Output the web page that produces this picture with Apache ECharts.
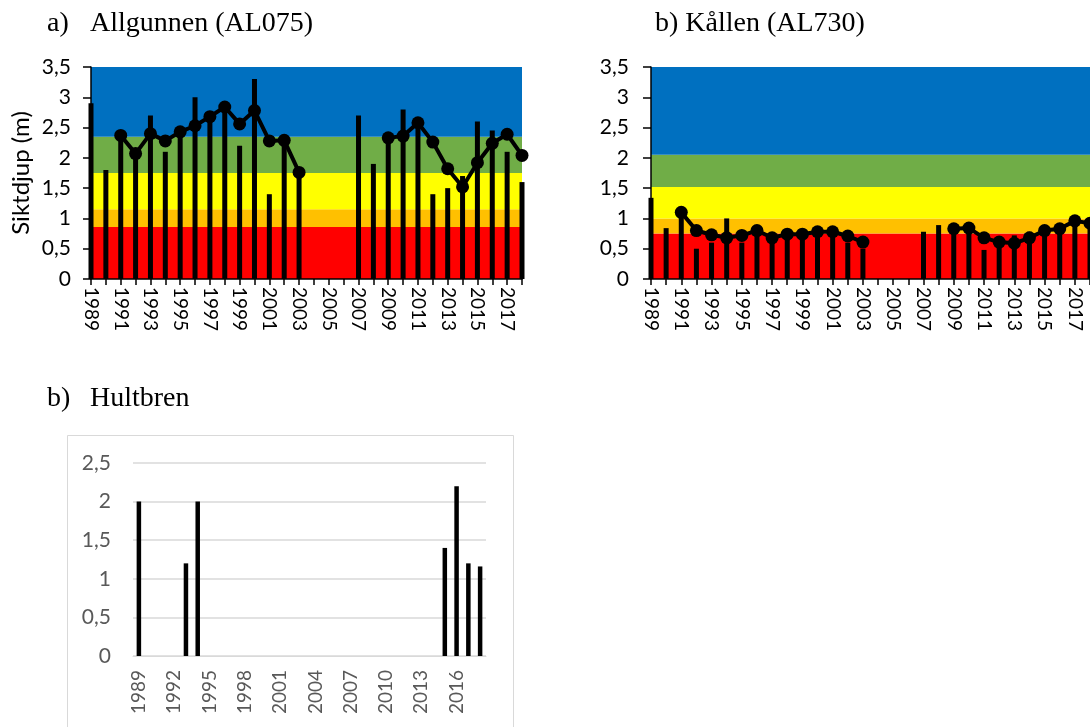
<!DOCTYPE html>
<html>
<head>
<meta charset="utf-8">
<script src="https://cdn.jsdelivr.net/npm/echarts@6/dist/echarts.min.js"></script>
<style>
html,body{margin:0;padding:0;background:#fff;}
#c{width:1090px;height:727px;}
</style>
</head>
<body>
<div id="c"></div>
<script>
const years = ['1989','1990','1991','1992','1993','1994','1995','1996','1997','1998','1999','2000','2001','2002','2003','2004','2005','2006','2007','2008','2009','2010','2011','2012','2013','2014','2015','2016','2017','2018'];

// a) Allgunnen (AL075)
const allgunnenDepth = [2.9,1.8,2.4,2.0,2.7,2.1,2.5,3.0,2.6,2.9,2.2,3.3,1.4,2.2,1.7,null,null,null,2.7,1.9,2.4,2.8,2.55,1.4,1.5,1.7,2.6,2.45,2.1,1.6];
const allgunnenMean3 = [null,null,2.37,2.07,2.40,2.28,2.43,2.53,2.68,2.84,2.56,2.78,2.28,2.29,1.76,null,null,null,null,null,2.33,2.36,2.58,2.26,1.82,1.52,1.92,2.24,2.39,2.04];
const allgunnenClasses = [0,0.86,1.15,1.75,2.35,3.5];

// b) Kållen (AL730)
const kallenDepth = [1.34,0.84,1.12,0.5,0.6,1.0,0.6,0.8,0.65,0.77,0.8,0.77,0.77,0.6,0.5,null,null,null,0.78,0.89,0.82,0.81,0.48,0.55,0.72,0.78,0.88,0.82,1.0,0.95];
const kallenMean3 = [null,null,1.10,0.80,0.73,0.68,0.72,0.80,0.68,0.74,0.74,0.78,0.78,0.71,0.61,null,null,null,null,null,0.83,0.84,0.68,0.61,0.59,0.68,0.80,0.83,0.96,0.92];
const kallenClasses = [0,0.75,1.0,1.52,2.05,3.5];

// c) Hultbren
const hultbrenDepth = [2.0,null,null,null,1.2,2.0,null,null,null,null,null,null,null,null,null,null,null,null,null,null,null,null,null,null,null,null,1.4,2.2,1.2,1.16];

const classColors = ['#FF0000','#FFC000','#FFFF00','#70AD47','#0070C0'];

function bands(limits){
  const out = [];
  for (let i = 0; i < limits.length - 1; i++) {
    out.push([{yAxis: limits[i], itemStyle:{color: classColors[i], opacity:1}}, {yAxis: limits[i+1]}]);
  }
  return out;
}
const fmt = v => String(v).replace('.', ',');

const chart = echarts.init(document.getElementById('c'), null, {renderer:'canvas'});
const titleFont = {fontFamily:'Liberation Serif', fontSize:28, fontWeight:'normal', color:'#000'};
const labelFont = 'Lato';

function colorXAxis(gi){
  return {
    type:'category', gridIndex:gi, data:years, boundaryGap:false,
    axisLine:{show:true, lineStyle:{color:'#000', width:1.5}},
    axisTick:{show:true, interval:0, length:6, lineStyle:{color:'#000', width:1.5}},
    axisLabel:{interval:1, rotate:-90, color:'#000', fontFamily:labelFont, fontSize:19, margin:8},
    z:5
  };
}
function colorYAxis(gi, margin){
  return {
    type:'value', gridIndex:gi, min:0, max:3.5, interval:0.5,
    axisLine:{show:true, lineStyle:{color:'#000', width:1.5}},
    axisTick:{show:true, length:8, lineStyle:{color:'#000', width:1.5}},
    axisLabel:{color:'#000', fontFamily:labelFont, fontSize:21, margin:margin, formatter:fmt},
    splitLine:{show:false},
    z:5
  };
}
function meanLine(gi, data){
  return {type:'line', xAxisIndex:gi, yAxisIndex:gi, data:data, connectNulls:false,
    symbol:'circle', symbolSize:13, showAllSymbol:true,
    lineStyle:{color:'#000', width:4}, itemStyle:{color:'#000'}, z:4, clip:false};
}

const option = {
  animation:false,
  backgroundColor:'#fff',
  title:[
    {text:'a)', left:47, top:10, padding:0, textStyle:titleFont},
    {text:'Allgunnen (AL075)', left:90, top:10, padding:0, textStyle:titleFont},
    {text:'b) Kållen (AL730)', left:655, top:10, padding:0, textStyle:titleFont},
    {text:'b)', left:47, top:385, padding:0, textStyle:titleFont},
    {text:'Hultbren', left:90, top:385, padding:0, textStyle:titleFont}
  ],
  graphic:[
    {type:'rect', shape:{x:67.5, y:435.5, width:446, height:320}, style:{fill:'none', stroke:'#d9d9d9', lineWidth:1}, z:-1}
  ],
  grid:[
    {left:91, top:67, width:431, height:212},
    {left:651, top:67, width:442, height:212},
    {left:133, top:463, width:353, height:193}
  ],
  xAxis:[
    colorXAxis(0),
    colorXAxis(1),
    {
      type:'category', gridIndex:2, data:years, boundaryGap:true,
      axisLine:{show:true, lineStyle:{color:'#d9d9d9', width:1}},
      axisTick:{show:false},
      axisLabel:{interval:2, rotate:90, color:'#595959', fontFamily:labelFont, fontSize:19, margin:14}
    }
  ],
  yAxis:[
    Object.assign(colorYAxis(0, 20), {name:'Siktdjup (m)', nameLocation:'middle', nameGap:58, nameRotate:90,
      nameTextStyle:{fontFamily:labelFont, fontSize:24, color:'#000'}}),
    colorYAxis(1, 22),
    {
      type:'value', gridIndex:2, min:0, max:2.5, interval:0.5,
      axisLine:{show:false}, axisTick:{show:false},
      axisLabel:{color:'#595959', fontFamily:labelFont, fontSize:21, margin:22, formatter:fmt},
      splitLine:{show:true, lineStyle:{color:'#d9d9d9', width:1.5}}
    }
  ],
  series:[
    {type:'line', xAxisIndex:0, yAxisIndex:0, data:[], silent:true, z:1,
      markArea:{silent:true, data:bands(allgunnenClasses)}},
    {type:'bar', xAxisIndex:0, yAxisIndex:0, data:allgunnenDepth, barWidth:5, itemStyle:{color:'#000'}, z:3},
    meanLine(0, allgunnenMean3),

    {type:'line', xAxisIndex:1, yAxisIndex:1, data:[], silent:true, z:1,
      markArea:{silent:true, data:bands(kallenClasses)}},
    {type:'bar', xAxisIndex:1, yAxisIndex:1, data:kallenDepth, barWidth:5, itemStyle:{color:'#000'}, z:3},
    meanLine(1, kallenMean3),

    {type:'bar', xAxisIndex:2, yAxisIndex:2, data:hultbrenDepth, barWidth:4.5, itemStyle:{color:'#000'}, z:3}
  ]
};
chart.setOption(option);
</script>
</body>
</html>
